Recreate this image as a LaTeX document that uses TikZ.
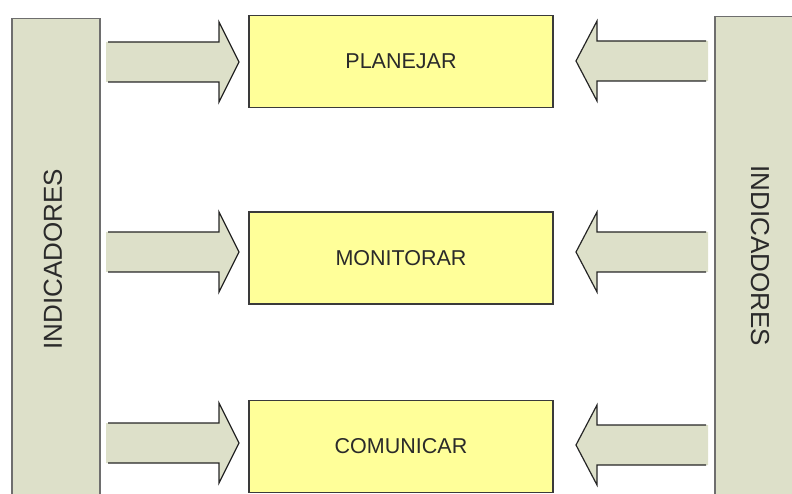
\documentclass[tikz,border=0pt]{standalone}
\usepackage{fontspec}
\setmainfont{Liberation Sans}
\usetikzlibrary{positioning}
\definecolor{barfill}{HTML}{DDE0C9}
\definecolor{barline}{HTML}{6E6E6E}
\definecolor{boxfill}{HTML}{FFFF99}
\definecolor{boxline}{HTML}{3A3A3A}
\definecolor{textdark}{HTML}{2A2A2A}
\begin{document}
\begin{tikzpicture}[x=1pt,y=-1pt]
        % Styles
        \tikzstyle{indicator}=[draw=barline,fill=barfill,line width=1.5pt,anchor=north west,minimum width=88pt,minimum height=500pt,inner sep=0pt]
        \tikzstyle{indicator text}=[text=textdark,font=\fontsize{26}{30}\selectfont,inner sep=0pt]
        \tikzstyle{stage}=[draw=boxline,fill=boxfill,line width=1.5pt,minimum width=304pt,minimum height=92pt,text=textdark,font=\fontsize{21.5}{25}\selectfont]
        \tikzstyle{arrow body}=[fill=barfill]
        \tikzstyle{arrow edge}=[draw=black!85,line width=1.2pt,line join=miter]
        %The graphic
        \useasboundingbox (0,0) rectangle (792,494);
        \clip (0,0) rectangle (792,494);
        %indicator bars
        \node[indicator] (indL) at (11,18) {};
        \node[indicator,minimum width=90pt] (indR) at (714,16) {};
        \node[indicator text,rotate=90] (txtL) at (53,259) {INDICADORES};
        \node[indicator text,rotate=-90] (txtR) at (760,256) {INDICADORES};
        %stages
        \node[stage] (plan) at (401,61.5) {PLANEJAR};
        \node[stage] (moni) at (401,258) {MONITORAR};
        \node[stage] (comu) at (401,446.5) {COMUNICAR};
        %arrows from the left bar
        \foreach \ya in {62,252,443} {
            \fill[arrow body] (106,\ya-20) -- (219,\ya-20) -- (219,\ya-40) -- (239,\ya) -- (219,\ya+40) -- (219,\ya+20) -- (106,\ya+20) -- cycle;
            \draw[arrow edge] (108,\ya-20) -- (219,\ya-20) -- (219,\ya-40) -- (239,\ya) -- (219,\ya+40) -- (219,\ya+20) -- (108,\ya+20);
        }
        %arrows from the right bar
        \foreach \ya in {61,252,445} {
            \fill[arrow body] (708,\ya-20) -- (597,\ya-20) -- (597,\ya-40) -- (576,\ya) -- (597,\ya+40) -- (597,\ya+20) -- (708,\ya+20) -- cycle;
            \draw[arrow edge] (706,\ya-20) -- (597,\ya-20) -- (597,\ya-40) -- (576,\ya) -- (597,\ya+40) -- (597,\ya+20) -- (706,\ya+20);
        }
\end{tikzpicture}
\end{document}
